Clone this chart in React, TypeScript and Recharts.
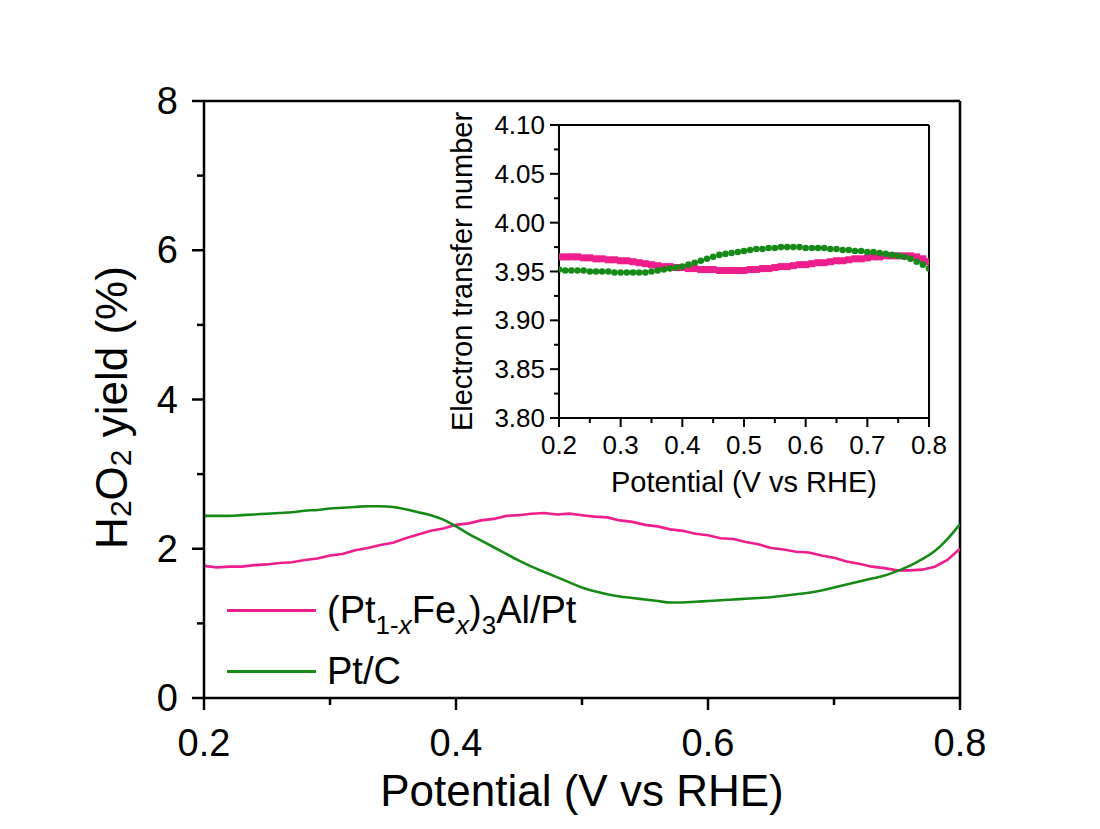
import React from "react";
import { LineChart, Line, XAxis, YAxis, ReferenceLine } from "recharts";

// ---------- data ----------
const POTENTIAL = [
  0.2, 0.21, 0.22, 0.23, 0.24, 0.25, 0.26, 0.27, 0.28, 0.29,
  0.3, 0.31, 0.32, 0.33, 0.34, 0.35, 0.36, 0.37, 0.38, 0.39,
  0.4, 0.41, 0.42, 0.43, 0.44, 0.45, 0.46, 0.47, 0.48, 0.49,
  0.5, 0.51, 0.52, 0.53, 0.54, 0.55, 0.56, 0.57, 0.58, 0.59,
  0.6, 0.61, 0.62, 0.63, 0.64, 0.65, 0.66, 0.67, 0.68, 0.69,
  0.7, 0.71, 0.72, 0.73, 0.74, 0.75, 0.76, 0.77, 0.78, 0.79, 0.8,
];

const PTFEAL_H2O2 = [
  1.77, 1.75, 1.76, 1.76, 1.78, 1.79, 1.81, 1.82, 1.85, 1.87,
  1.91, 1.93, 1.98, 2.01, 2.05, 2.08, 2.14, 2.19, 2.24, 2.27,
  2.32, 2.34, 2.38, 2.4, 2.44, 2.45, 2.47, 2.48, 2.46, 2.47,
  2.45, 2.43, 2.42, 2.38, 2.36, 2.32, 2.3, 2.26, 2.24, 2.2,
  2.18, 2.14, 2.13, 2.09, 2.06, 2.01, 1.99, 1.96, 1.95, 1.91,
  1.88, 1.83, 1.8, 1.76, 1.74, 1.71, 1.71, 1.72, 1.76, 1.85, 2.0,
];

const PTC_H2O2 = [
  2.44, 2.44, 2.44, 2.45, 2.46, 2.47, 2.48, 2.49, 2.51, 2.52,
  2.54, 2.55, 2.56, 2.57, 2.57, 2.56, 2.53, 2.49, 2.45, 2.39,
  2.3, 2.2, 2.11, 2.02, 1.93, 1.84, 1.76, 1.69, 1.62, 1.55,
  1.48, 1.43, 1.39, 1.36, 1.34, 1.32, 1.3, 1.28, 1.28, 1.29,
  1.3, 1.31, 1.32, 1.33, 1.34, 1.35, 1.37, 1.39, 1.41, 1.44,
  1.48, 1.52, 1.56, 1.6, 1.64, 1.7, 1.77, 1.86, 1.97, 2.13, 2.33,
];

const PTFEAL_N = [
  3.965, 3.965, 3.965, 3.965, 3.964, 3.964, 3.963, 3.963, 3.962, 3.962,
  3.961, 3.961, 3.96, 3.959, 3.958, 3.957, 3.956, 3.955, 3.955, 3.954,
  3.954, 3.953, 3.953, 3.952, 3.952, 3.952, 3.951, 3.951, 3.951, 3.951,
  3.951, 3.952, 3.952, 3.953, 3.953, 3.954, 3.955, 3.955, 3.956, 3.957,
  3.957, 3.958, 3.959, 3.959, 3.96, 3.961, 3.961, 3.962, 3.963, 3.963,
  3.964, 3.965, 3.965, 3.966, 3.966, 3.966, 3.966, 3.966, 3.965, 3.963, 3.96,
];

const PTC_N = [
  3.952, 3.951, 3.951, 3.951, 3.951, 3.95, 3.95, 3.95, 3.95, 3.949,
  3.949, 3.949, 3.949, 3.949, 3.949, 3.95, 3.951, 3.952, 3.953, 3.954,
  3.955, 3.957, 3.959, 3.961, 3.963, 3.965, 3.967, 3.968, 3.969, 3.97,
  3.971, 3.972, 3.973, 3.973, 3.974, 3.974, 3.975, 3.975, 3.975, 3.975,
  3.974, 3.974, 3.974, 3.974, 3.973, 3.973, 3.972, 3.972, 3.971, 3.971,
  3.97, 3.97, 3.969, 3.968, 3.967, 3.966, 3.965, 3.963, 3.96, 3.957, 3.953,
];

const MAIN_X_TICKS = [0.2, 0.3, 0.4, 0.5, 0.6, 0.7, 0.8];
const MAIN_Y_TICKS = [0, 1, 2, 3, 4, 5, 6, 7, 8];
const INSET_X_TICKS = [0.2, 0.25, 0.3, 0.35, 0.4, 0.45, 0.5, 0.55, 0.6, 0.65, 0.7, 0.75, 0.8];
const INSET_Y_TICKS = [3.8, 3.825, 3.85, 3.875, 3.9, 3.925, 3.95, 3.975, 4.0, 4.025, 4.05, 4.075, 4.1];

const SERIES_NAMES = ["(Pt1-xFex)3Al/Pt", "Pt/C"];

const PINK = "#EE1E8C";
const GREEN = "#158A16";
const FONT = "'Liberation Sans', Arial, Helvetica, sans-serif";

const mainData = POTENTIAL.map((p, i) => ({ p, a: PTFEAL_H2O2[i], b: PTC_H2O2[i] }));
const insetData = POTENTIAL.map((p, i) => ({ p, a: PTFEAL_N[i], b: PTC_N[i] }));

const isMult = (v: number, step: number) => Math.abs(v / step - Math.round(v / step)) < 1e-6;

// ---------- ticks ----------
const makeXTick = (majorStep: number, majorLen: number, minorLen: number, fs: number, gap: number, digits: number, sw: number) =>
  (props: any) => {
    const { x, y, payload } = props;
    const major = isMult(payload.value, majorStep);
    return (
      <g>
        <line x1={x} x2={x} y1={y} y2={y + (major ? majorLen : minorLen)} stroke="#000" strokeWidth={sw} />
        {major && (
          <text x={x} y={y + gap} textAnchor="middle" fontSize={fs} fontFamily={FONT} fill="#000">
            {payload.value.toFixed(digits)}
          </text>
        )}
      </g>
    );
  };

const makeYTick = (majorStep: number, majorLen: number, minorLen: number, fs: number, gap: number, digits: number, sw: number) =>
  (props: any) => {
    const { x, y, payload } = props;
    const major = isMult(payload.value, majorStep);
    return (
      <g>
        <line x1={x} x2={x - (major ? majorLen : minorLen)} y1={y} y2={y} stroke="#000" strokeWidth={sw} />
        {major && (
          <text x={x - gap} y={y} textAnchor="end" dominantBaseline="central" fontSize={fs} fontFamily={FONT} fill="#000">
            {payload.value.toFixed(digits)}
          </text>
        )}
      </g>
    );
  };

const MainXTick = makeXTick(0.2, 12, 7, 38, 58, 1, 2.5);
const MainYTick = makeYTick(2, 12, 7, 38, 26, 0, 2.5);
const InsetXTick = makeXTick(0.1, 9, 5, 26, 36, 1, 2);
const InsetYTick = makeYTick(0.05, 9, 5, 26, 14, 2, 2);

// ---------- labels ----------
const MainXLabel = (props: any) => {
  const vb = props.viewBox || { x: 204, width: 756, y: 698 };
  return (
    <text x={vb.x + vb.width / 2} y={806} textAnchor="middle" fontSize={44} fontFamily={FONT} fill="#000">
      Potential (V vs RHE)
    </text>
  );
};

const MainYLabel = (props: any) => {
  const vb = props.viewBox || { y: 101, height: 597 };
  const cx = 111;
  const cy = vb.y + vb.height / 2 + 8;
  return (
    <text
      x={cx}
      y={cy}
      transform={`rotate(-90 ${cx} ${cy})`}
      textAnchor="middle"
      dominantBaseline="central"
      fontSize={44}
      fontFamily={FONT}
      fill="#000"
    >
      H<tspan dy={9} fontSize={30}>2</tspan>
      <tspan dy={-9}>O</tspan>
      <tspan dy={9} fontSize={30}>2</tspan>
      <tspan dy={-9}> yield (%)</tspan>
    </text>
  );
};

const InsetXLabel = (props: any) => {
  const vb = props.viewBox || { x: 119, width: 370 };
  return (
    <text x={vb.x + vb.width / 2} y={392} textAnchor="middle" fontSize={29} fontFamily={FONT} fill="#000">
      Potential (V vs RHE)
    </text>
  );
};

const InsetYLabel = (props: any) => {
  const vb = props.viewBox || { y: 25, height: 293 };
  const cx = 22;
  const cy = vb.y + vb.height / 2;
  return (
    <text
      x={cx}
      y={cy}
      transform={`rotate(-90 ${cx} ${cy})`}
      textAnchor="middle"
      dominantBaseline="central"
      fontSize={29}
      fontFamily={FONT}
      fill="#000"
    >
      Electron transfer number
    </text>
  );
};

// ---------- markers ----------
const SquareDot = (props: any) => {
  const { cx, cy, index } = props;
  if (cx == null || cy == null) return <g key={`s${index}`} />;
  return <rect key={`s${index}`} x={cx - 3.5} y={cy - 3.5} width={7} height={7} fill={PINK} />;
};
const CircleDot = (props: any) => {
  const { cx, cy, index } = props;
  if (cx == null || cy == null) return <g key={`c${index}`} />;
  return <circle key={`c${index}`} cx={cx} cy={cy} r={3.3} fill={GREEN} />;
};

// ---------- legend ----------
const SUB = { fontSize: 26, verticalAlign: "-11px" } as const;
const LegendBox = () => (
  <div style={{ position: "absolute", left: 0, top: 0, width: 1100, height: 829, pointerEvents: "none", fontFamily: FONT, color: "#000" }}>
    <div style={{ position: "absolute", left: 227, top: 609, width: 89, height: 3, background: PINK }} />
    <div style={{ position: "absolute", left: 327, top: 587, fontSize: 38, lineHeight: "46px", whiteSpace: "nowrap" }}>
      (Pt<sub style={SUB}>1-<i>x</i></sub>Fe<sub style={SUB}><i>x</i></sub>)<sub style={SUB}>3</sub>Al/Pt
    </div>
    <div style={{ position: "absolute", left: 227, top: 670, width: 89, height: 3, background: GREEN }} />
    <div style={{ position: "absolute", left: 327, top: 648, fontSize: 38, lineHeight: "46px", whiteSpace: "nowrap" }}>
      {SERIES_NAMES[1]}
    </div>
  </div>
);

export default function App() {
  return (
    <div style={{ position: "absolute", left: 0, top: 0, width: 1100, height: 829, background: "#fff" }}>
      <div style={{ position: "absolute", left: 0, top: 0 }}>
        <LineChart width={1100} height={829} data={mainData} margin={{ top: 101, right: 140, bottom: 0, left: 0 }}>
          <XAxis
            dataKey="p"
            type="number"
            domain={[0.2, 0.8]}
            ticks={MAIN_X_TICKS}
            interval={0}
            height={131}
            tickSize={0}
            tickMargin={0}
            tickLine={false}
            axisLine={{ stroke: "#000", strokeWidth: 2.5 }}
            tick={MainXTick}
            allowDataOverflow
            label={<MainXLabel />}
          />
          <YAxis
            type="number"
            domain={[0, 8]}
            ticks={MAIN_Y_TICKS}
            interval={0}
            width={204}
            tickSize={0}
            tickMargin={0}
            tickLine={false}
            axisLine={{ stroke: "#000", strokeWidth: 2.5 }}
            tick={MainYTick}
            allowDataOverflow
            label={<MainYLabel />}
          />
          <ReferenceLine y={8} stroke="#000" strokeWidth={2.5} ifOverflow="visible" />
          <ReferenceLine x={0.8} stroke="#000" strokeWidth={2.5} ifOverflow="visible" />
          <Line type="linear" dataKey="a" name={SERIES_NAMES[0]} stroke={PINK} strokeWidth={2.6} dot={false} isAnimationActive={false} />
          <Line type="monotone" dataKey="b" name={SERIES_NAMES[1]} stroke={GREEN} strokeWidth={2.6} dot={false} isAnimationActive={false} />
        </LineChart>
      </div>
      <div style={{ position: "absolute", left: 440, top: 100 }}>
        <LineChart width={560} height={400} data={insetData} margin={{ top: 25, right: 71, bottom: 0, left: 0 }}>
          <XAxis
            dataKey="p"
            type="number"
            domain={[0.2, 0.8]}
            ticks={INSET_X_TICKS}
            interval={0}
            height={82}
            tickSize={0}
            tickMargin={0}
            tickLine={false}
            axisLine={{ stroke: "#000", strokeWidth: 2 }}
            tick={InsetXTick}
            allowDataOverflow
            label={<InsetXLabel />}
          />
          <YAxis
            type="number"
            domain={[3.8, 4.1]}
            ticks={INSET_Y_TICKS}
            interval={0}
            width={119}
            tickSize={0}
            tickMargin={0}
            tickLine={false}
            axisLine={{ stroke: "#000", strokeWidth: 2 }}
            tick={InsetYTick}
            allowDataOverflow
            label={<InsetYLabel />}
          />
          <ReferenceLine y={4.1} stroke="#000" strokeWidth={2} ifOverflow="visible" />
          <ReferenceLine x={0.8} stroke="#000" strokeWidth={2} ifOverflow="visible" />
          <Line type="linear" dataKey="a" name={SERIES_NAMES[0]} stroke="none" dot={<SquareDot />} isAnimationActive={false} />
          <Line type="linear" dataKey="b" name={SERIES_NAMES[1]} stroke="none" dot={<CircleDot />} isAnimationActive={false} />
        </LineChart>
      </div>
      <LegendBox />
    </div>
  );
}
